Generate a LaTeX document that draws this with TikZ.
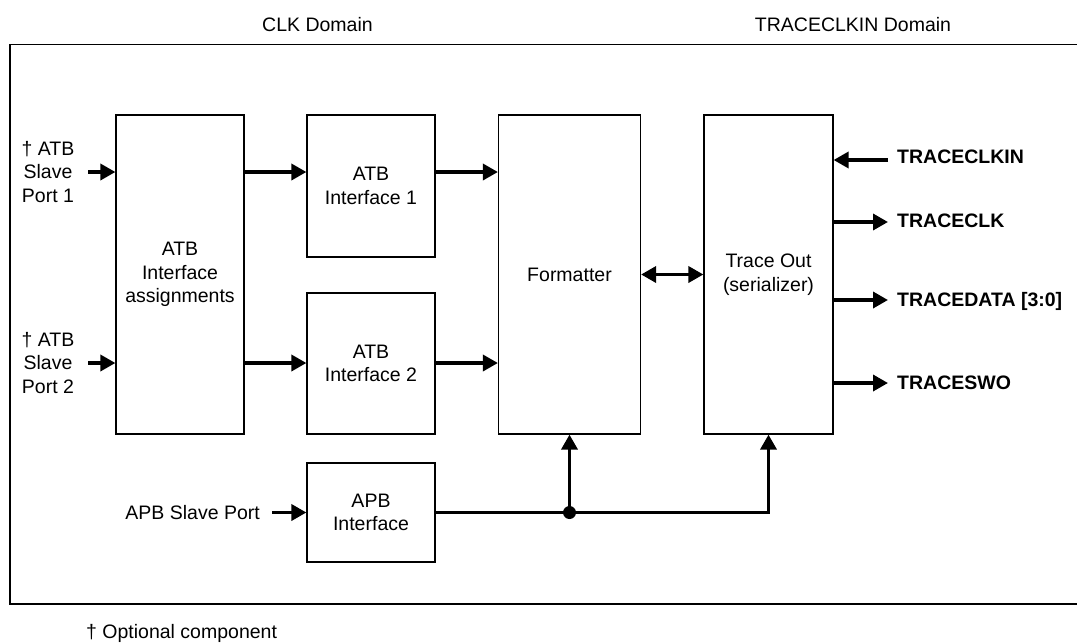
\documentclass[tikz,border=0pt]{standalone}
\usepackage{fontspec}
\setmainfont{Liberation Sans}
\usetikzlibrary{arrows.meta}
\begin{document}
\begin{tikzpicture}[x=1pt,y=-1pt,
  every node/.style={font=\fontsize{19.5}{23.7}\selectfont, inner sep=0pt},
  blk/.style={draw, line width=1.2pt, align=center},
  conn/.style={line width=3.5pt, -{Triangle[length=15pt,width=16pt]}},
  biconn/.style={line width=3.5pt, {Triangle[length=15pt,width=16pt]}-{Triangle[length=15pt,width=16pt]}},
  lbl/.style={align=center},
  sig/.style={font=\fontsize{19.5}{23.7}\selectfont\bfseries, anchor=base west},
  frame/.style={line width=1.5pt}
]
\useasboundingbox (0,0) rectangle (1077,643);

% outer frame (open to the right)
\draw[frame] (1077,44.5) -- (10,44.5) -- (10,604) -- (1077,604);

% domain labels
\node[anchor=base] (clkdom) at (317.5,31) {CLK Domain};
\node[anchor=base] (trdom) at (853,31) {TRACECLKIN Domain};

% blocks
\node[blk, minimum width=128pt, minimum height=319pt] (asg) at (180,274.5) {ATB\\Interface\\assignments};
\node[blk, minimum width=128pt, minimum height=142pt] (atb1) at (371,186) {ATB\\Interface 1};
\node[blk, minimum width=128pt, minimum height=141pt] (atb2) at (371,363.5) {ATB\\Interface 2};
\node[blk, minimum width=128pt, minimum height=99pt] (apb) at (371,512.5) {APB\\Interface};
\node[blk, minimum width=142pt, minimum height=319pt] (fmt) at (569.5,274.5) {Formatter};
\node[blk, minimum width=129pt, minimum height=319pt] (trc) at (768.5,274.5) {Trace Out\\(serializer)};

% input port labels
\node[lbl] (p1) at (48,172) {\dag{} ATB\\Slave\\Port 1};
\node[lbl] (p2) at (48,363) {\dag{} ATB\\Slave\\Port 2};
\node[anchor=base east] (papb) at (260,519) {APB Slave Port};

% free ends
\coordinate (s1) at (88,172);
\coordinate (s2) at (88,363);
\coordinate (sapb) at (272,512.5);
\coordinate (iclk) at (888,160);
\coordinate (oclk) at (888,222);
\coordinate (odata) at (888,300);
\coordinate (oswo) at (888,383);

% output signal labels
\node[sig] (lclkin) at (897,163.3) {TRACECLKIN};
\node[sig] (lclk) at (897,227.7) {TRACECLK};
\node[sig] (ldata) at (897,306.7) {TRACEDATA [3:0]};
\node[sig] (lswo) at (897,389.3) {TRACESWO};

% connectors
\draw[conn] (s1) -- (asg.west |- s1);
\draw[conn] (s2) -- (asg.west |- s2);
\draw[conn] (asg.east |- s1) -- (atb1.west |- s1);
\draw[conn] (asg.east |- s2) -- (atb2.west |- s2);
\draw[conn] (atb1.east |- s1) -- (fmt.west |- s1);
\draw[conn] (atb2.east |- s2) -- (fmt.west |- s2);
\draw[biconn] (fmt.east) -- (trc.west);
\draw[conn] (sapb) -- (apb.west);

\draw[conn] (iclk) -- (trc.east |- iclk);
\draw[conn] (trc.east |- oclk) -- (oclk);
\draw[conn] (trc.east |- odata) -- (odata);
\draw[conn] (trc.east |- oswo) -- (oswo);

\coordinate (j) at (fmt.south |- apb.east);
\draw[conn] (apb.east) -| (trc.south);
\draw[conn] (j) -- (fmt.south);
\fill (j) circle (6.5pt);

% footnote
\node[anchor=base west] (foot) at (86,638) {\dag{} Optional component};
\end{tikzpicture}
\end{document}
